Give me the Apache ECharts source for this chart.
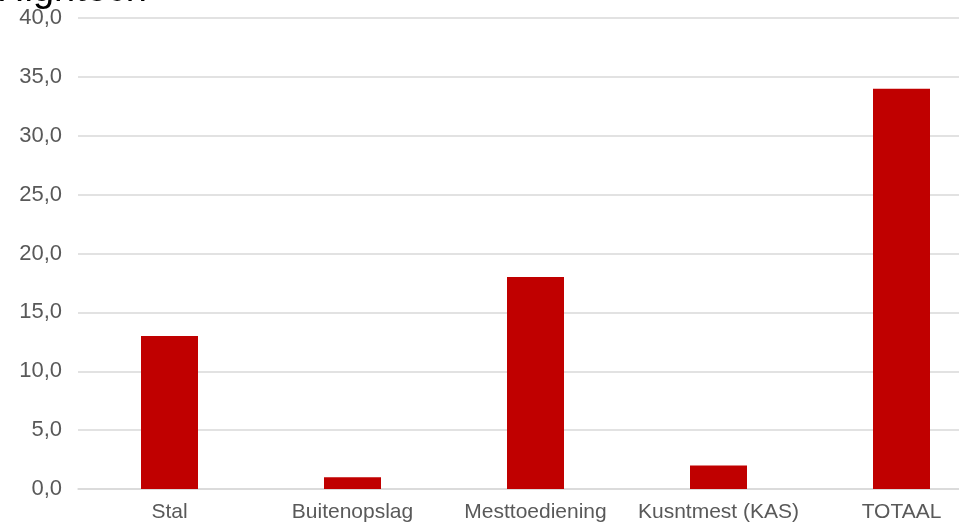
<!DOCTYPE html>
<html><head><meta charset="utf-8">
<script src="https://cdn.jsdelivr.net/npm/echarts@6/dist/echarts.min.js"></script>
<style>html,body{margin:0;padding:0;background:#fff}#c{width:959px;height:525px}</style>
</head><body><div id="c"></div>
<script>
const categories = ['Stal', 'Buitenopslag', 'Mesttoediening', 'Kusntmest (KAS)', 'TOTAAL'];
const values = [13.0, 1.0, 18.0, 2.0, 34.0];
const titleText = 'Hightech';

const chart = echarts.init(document.getElementById('c'), null, {renderer: 'canvas'});
chart.setOption({
  animation: false,
  graphic: [{
    type: 'text', x: -3, y: -28.5,
    style: {text: titleText, font: '38px "Liberation Sans", Arial, sans-serif', fill: '#000'}
  }],
  grid: {left: 78, top: 18, bottom: 36, width: 915, containLabel: false, outerBoundsMode: 'none'},
  xAxis: {
    type: 'category', data: categories,
    axisLine: {show: true, lineStyle: {color: '#d9d9d9', width: 1.5}},
    axisTick: {show: false},
    axisLabel: {color: '#595959', fontSize: 21, fontFamily: '"Liberation Sans", Arial, sans-serif', margin: 13, interval: 0}
  },
  yAxis: {
    type: 'value', min: 0, max: 40, interval: 5,
    axisLine: {show: false}, axisTick: {show: false},
    splitLine: {lineStyle: {color: '#d9d9d9', width: 1.5}},
    axisLabel: {color: '#595959', fontSize: 22, fontFamily: '"Liberation Sans", Arial, sans-serif', margin: 16,
      formatter: v => v.toFixed(1).replace('.', ',')}
  },
  series: [{
    type: 'bar', data: values, barWidth: 57,
    itemStyle: {color: '#c00000'}
  }]
});
</script></body></html>
